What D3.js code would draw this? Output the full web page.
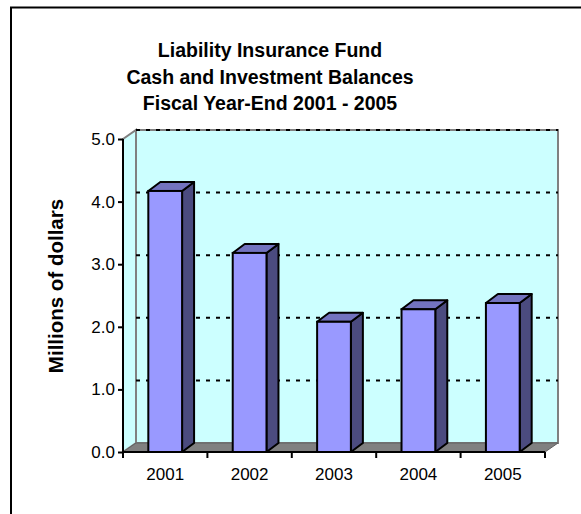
<!DOCTYPE html>
<html><head><meta charset="utf-8">
<script src="https://cdn.jsdelivr.net/npm/d3@7"></script>
<style>body{margin:0;background:#fff}svg{display:block}text{font-family:"Liberation Sans",Arial,sans-serif}</style>
</head><body><svg id="c" width="581" height="514"></svg>
<script>
const years = ["2001","2002","2003","2004","2005"];
const balances = [4.17, 3.18, 2.08, 2.28, 2.38];
const yTicks = [0,1,2,3,4,5];
const titleLines = ["Liability Insurance Fund","Cash and Investment Balances","Fiscal Year-End 2001 - 2005"];
const yTitle = "Millions of dollars";

const svg = d3.select("#c");
svg.append("rect").attr("x",11).attr("y",7.5).attr("width",600).attr("height",600)
  .attr("fill","#fff").attr("stroke","#000").attr("stroke-width",2);

const x0=123,x1=545,yb=452,yt=139, wdx=13, wdy=9, bdx=12, bdy=9;
const x = d3.scaleBand().domain(years).range([x0,x1]).paddingInner(0.6).paddingOuter(0.3);
const y = d3.scaleLinear().domain([0,5]).range([yb,yt]);

// walls
svg.append("polygon").attr("points",[[x0+wdx,y(5)-wdy],[x1+wdx,y(5)-wdy],[x1+wdx,yb-wdy],[x0+wdx,yb-wdy]].join(" "))
  .attr("fill","#CCFFFF").attr("stroke","#808080").attr("stroke-width",2);
svg.append("polygon").attr("points",[[x0,y(5)],[x0+wdx,y(5)-wdy],[x0+wdx,yb-wdy],[x0,yb]].join(" "))
  .attr("fill","#CCFFFF").attr("stroke","#808080").attr("stroke-width",2);
svg.append("polygon").attr("points",[[x0,yb],[x1,yb],[x1+wdx,yb-wdy],[x0+wdx,yb-wdy]].join(" "))
  .attr("fill","#808080").attr("stroke","#606060").attr("stroke-width",1);

// gridlines
svg.selectAll(".grid").data(yTicks.filter(d=>d>0)).join("line")
  .attr("x1",x0+wdx).attr("x2",x1+wdx).attr("y1",d=>y(d)-wdy).attr("y2",d=>y(d)-wdy)
  .attr("stroke","#000").attr("stroke-width",2).attr("stroke-dasharray","4,6");

// bars
const bw = x.bandwidth();
const data = years.map((yr,i)=>({yr,v:balances[i]}));
const g = svg.selectAll(".bar").data(data).join("g");
g.append("polygon").attr("points",d=>{const a=x(d.yr),t=y(d.v);return [[a+bw,t],[a+bw+bdx,t-bdy],[a+bw+bdx,yb-bdy],[a+bw,yb]].join(" ");})
  .attr("fill","#4B4B7F").attr("stroke","#000").attr("stroke-width",2).attr("stroke-linejoin","round");
g.append("polygon").attr("points",d=>{const a=x(d.yr),t=y(d.v);return [[a,t],[a+bdx,t-bdy],[a+bw+bdx,t-bdy],[a+bw,t]].join(" ");})
  .attr("fill","#7373BF").attr("stroke","#000").attr("stroke-width",2).attr("stroke-linejoin","round");
g.append("rect").attr("x",d=>x(d.yr)).attr("y",d=>y(d.v)).attr("width",bw).attr("height",d=>yb-y(d.v))
  .attr("fill","#9999FF").attr("stroke","#000").attr("stroke-width",2);

// y axis
const yAxis = d3.axisLeft(y).tickValues(yTicks).tickFormat(d3.format(".1f")).tickSize(5).tickPadding(3);
const ya = svg.append("g").attr("transform",`translate(${x0},0)`).call(yAxis);
ya.select(".domain").attr("stroke","#000").attr("stroke-width",2).attr("d",`M0,${yt}V${yb}`);
ya.selectAll(".tick line").attr("stroke","#000").attr("stroke-width",2);
ya.selectAll(".tick text").attr("font-size",17).attr("font-family","Liberation Sans, Arial").attr("fill","#000");

// x axis
const step = x.step();
const bounds = d3.range(years.length+1).map(i=>x0+i*step);
svg.append("line").attr("x1",x0).attr("x2",x1).attr("y1",yb).attr("y2",yb).attr("stroke","#000").attr("stroke-width",2);
svg.selectAll(".xt").data(bounds).join("line").attr("x1",d=>d).attr("x2",d=>d).attr("y1",yb).attr("y2",yb+6)
  .attr("stroke","#000").attr("stroke-width",2);
svg.selectAll(".xl").data(years).join("text").attr("x",d=>x(d)+bw/2).attr("y",480)
  .attr("text-anchor","middle").attr("font-size",17).text(d=>d);

// titles
svg.selectAll(".ti").data(titleLines).join("text").attr("x",270).attr("y",(d,i)=>57+i*26.5)
  .attr("text-anchor","middle").attr("font-size",19.5).attr("font-weight","bold").text(d=>d);
svg.append("text").attr("transform","translate(63,286) rotate(-90)").attr("text-anchor","middle")
  .attr("font-size",20.5).attr("font-weight","bold").text(yTitle);
</script></body></html>
